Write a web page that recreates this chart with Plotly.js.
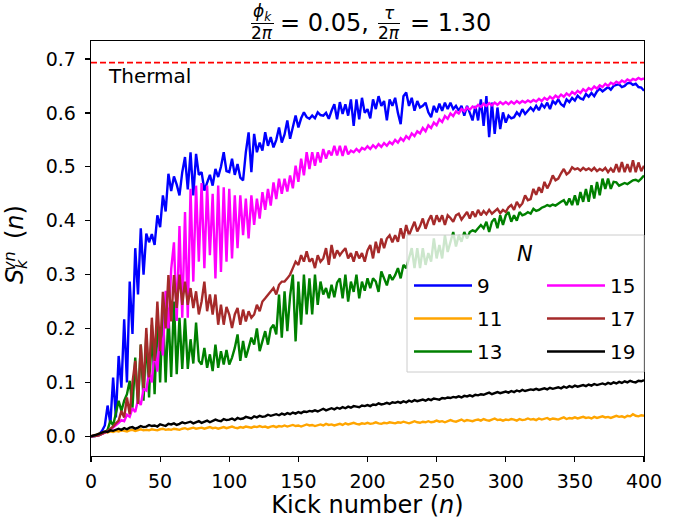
<!DOCTYPE html>
<html>
<head>
<meta charset="utf-8">
<script src="https://cdn.plot.ly/plotly-3.0.1.min.js"></script>
<style>html,body{margin:0;padding:0;background:#fff;}#chart{width:689px;height:519px;}</style>
</head>
<body>
<div id="chart"></div>
<script>
// Kick numbers (sampled every 2 kicks)
const kicks = [
0,2,4,6,8,10,12,14,16,18,
20,22,24,26,28,30,32,34,36,38,
40,42,44,46,48,50,52,54,56,58,
60,62,64,66,68,70,72,74,76,78,
80,82,84,86,88,90,92,94,96,98,
100,102,104,106,108,110,112,114,116,118,
120,122,124,126,128,130,132,134,136,138,
140,142,144,146,148,150,152,154,156,158,
160,162,164,166,168,170,172,174,176,178,
180,182,184,186,188,190,192,194,196,198,
200,202,204,206,208,210,212,214,216,218,
220,222,224,226,228,230,232,234,236,238,
240,242,244,246,248,250,252,254,256,258,
260,262,264,266,268,270,272,274,276,278,
280,282,284,286,288,290,292,294,296,298,
300,302,304,306,308,310,312,314,316,318,
320,322,324,326,328,330,332,334,336,338,
340,342,344,346,348,350,352,354,356,358,
360,362,364,366,368,370,372,374,376,378,
380,382,384,386,388,390,392,394,396,398,
400];

// N = 9
const s9 = [
0.000,0.000,0.001,0.004,0.010,0.020,0.057,0.023,0.109,0.035,
0.149,0.090,0.217,0.100,0.287,0.190,0.349,0.263,0.386,0.300,
0.376,0.360,0.375,0.355,0.410,0.388,0.447,0.417,0.487,0.455,
0.482,0.467,0.447,0.490,0.518,0.458,0.527,0.447,0.524,0.485,
0.490,0.456,0.470,0.485,0.465,0.496,0.481,0.500,0.527,0.492,
0.490,0.515,0.485,0.505,0.480,0.475,0.527,0.564,0.490,0.561,
0.527,0.545,0.530,0.564,0.539,0.555,0.536,0.550,0.573,0.545,
0.560,0.586,0.552,0.575,0.595,0.573,0.590,0.601,0.592,0.589,
0.595,0.590,0.601,0.596,0.595,0.600,0.589,0.604,0.616,0.588,
0.620,0.598,0.616,0.595,0.625,0.576,0.625,0.588,0.628,0.600,
0.607,0.590,0.625,0.607,0.631,0.613,0.622,0.586,0.625,0.613,
0.628,0.600,0.579,0.631,0.638,0.613,0.628,0.604,0.622,0.610,
0.613,0.619,0.601,0.592,0.613,0.601,0.617,0.604,0.619,0.607,
0.619,0.607,0.613,0.604,0.613,0.595,0.613,0.600,0.586,0.613,
0.586,0.625,0.576,0.631,0.555,0.619,0.561,0.610,0.570,0.601,
0.582,0.595,0.590,0.592,0.601,0.595,0.607,0.598,0.605,0.610,
0.604,0.613,0.605,0.616,0.610,0.619,0.607,0.622,0.617,0.625,
0.616,0.612,0.625,0.620,0.628,0.623,0.632,0.627,0.625,0.635,
0.630,0.637,0.631,0.640,0.645,0.640,0.644,0.648,0.643,0.650,
0.652,0.653,0.648,0.650,0.655,0.656,0.652,0.654,0.648,0.647,
0.641];

// N = 11
const s11 = [
0.000,0.001,0.003,0.005,0.006,0.008,0.007,0.009,0.008,0.010,
0.009,0.011,0.010,0.009,0.011,0.012,0.010,0.011,0.013,0.011,
0.012,0.011,0.013,0.012,0.011,0.013,0.014,0.012,0.013,0.012,
0.014,0.013,0.012,0.014,0.015,0.013,0.014,0.016,0.014,0.015,
0.016,0.014,0.015,0.017,0.015,0.016,0.014,0.016,0.017,0.015,
0.016,0.018,0.016,0.015,0.017,0.016,0.018,0.017,0.016,0.018,
0.017,0.019,0.017,0.018,0.016,0.018,0.019,0.017,0.019,0.018,
0.020,0.018,0.019,0.021,0.019,0.020,0.018,0.020,0.022,0.020,
0.021,0.019,0.021,0.022,0.020,0.023,0.021,0.022,0.020,0.022,
0.023,0.021,0.024,0.022,0.023,0.025,0.023,0.022,0.024,0.023,
0.025,0.023,0.024,0.026,0.024,0.023,0.025,0.024,0.026,0.025,
0.024,0.026,0.025,0.027,0.025,0.024,0.026,0.028,0.026,0.025,
0.027,0.026,0.028,0.026,0.027,0.029,0.027,0.028,0.026,0.028,
0.030,0.028,0.027,0.029,0.031,0.028,0.030,0.029,0.028,0.030,
0.031,0.029,0.032,0.030,0.029,0.031,0.033,0.030,0.031,0.029,
0.031,0.030,0.032,0.031,0.029,0.032,0.030,0.031,0.033,0.031,
0.032,0.030,0.033,0.031,0.032,0.034,0.031,0.033,0.032,0.031,
0.033,0.035,0.032,0.034,0.033,0.035,0.033,0.034,0.036,0.034,
0.035,0.033,0.036,0.034,0.035,0.037,0.035,0.036,0.034,0.036,
0.038,0.036,0.037,0.035,0.038,0.037,0.041,0.038,0.037,0.039,
0.038];

// N = 13
const s13 = [
0.000,0.000,0.001,0.002,0.004,0.007,0.012,0.029,0.020,0.041,
0.066,0.047,0.066,0.078,0.103,0.053,0.146,0.060,0.170,0.066,
0.189,0.072,0.207,0.078,0.226,0.100,0.240,0.100,0.230,0.110,
0.250,0.115,0.220,0.125,0.219,0.125,0.180,0.135,0.211,0.140,
0.133,0.164,0.127,0.152,0.121,0.170,0.127,0.158,0.133,0.160,
0.133,0.146,0.164,0.189,0.140,0.177,0.146,0.164,0.183,0.170,
0.200,0.158,0.177,0.195,0.170,0.200,0.207,0.189,0.263,0.183,
0.269,0.195,0.260,0.300,0.176,0.287,0.207,0.300,0.226,0.293,
0.226,0.300,0.244,0.287,0.263,0.275,0.256,0.281,0.258,0.285,
0.293,0.256,0.300,0.250,0.287,0.268,0.300,0.256,0.287,0.270,
0.293,0.275,0.293,0.287,0.268,0.306,0.293,0.280,0.300,0.290,
0.299,0.312,0.293,0.318,0.312,0.330,0.349,0.312,0.349,0.312,
0.349,0.318,0.340,0.324,0.367,0.330,0.355,0.330,0.373,0.342,
0.360,0.379,0.352,0.373,0.361,0.379,0.367,0.379,0.382,0.380,
0.386,0.392,0.386,0.398,0.379,0.398,0.404,0.386,0.410,0.392,
0.410,0.416,0.398,0.410,0.400,0.416,0.410,0.412,0.416,0.413,
0.422,0.418,0.420,0.424,0.426,0.429,0.427,0.430,0.428,0.432,
0.435,0.438,0.429,0.441,0.429,0.447,0.429,0.453,0.435,0.459,
0.435,0.466,0.441,0.472,0.447,0.478,0.459,0.478,0.459,0.472,
0.471,0.465,0.468,0.470,0.468,0.472,0.475,0.476,0.473,0.478,
0.484];

// N = 15
const s15 = [
0.000,0.000,0.001,0.002,0.004,0.006,0.009,0.012,0.016,0.020,
0.025,0.030,0.028,0.040,0.036,0.052,0.045,0.068,0.058,0.088,
0.085,0.120,0.100,0.160,0.120,0.200,0.150,0.270,0.200,0.310,
0.360,0.214,0.390,0.220,0.416,0.220,0.459,0.287,0.465,0.324,
0.470,0.312,0.465,0.336,0.450,0.293,0.465,0.305,0.462,0.324,
0.459,0.330,0.447,0.349,0.447,0.373,0.441,0.367,0.447,0.392,
0.441,0.404,0.453,0.420,0.459,0.428,0.471,0.440,0.478,0.450,
0.478,0.454,0.484,0.460,0.502,0.472,0.515,0.484,0.527,0.496,
0.527,0.502,0.527,0.508,0.533,0.515,0.530,0.521,0.539,0.521,
0.539,0.520,0.539,0.523,0.530,0.527,0.533,0.528,0.535,0.532,
0.538,0.533,0.540,0.535,0.542,0.537,0.544,0.539,0.546,0.542,
0.550,0.545,0.553,0.548,0.557,0.552,0.562,0.557,0.566,0.562,
0.572,0.566,0.577,0.572,0.582,0.577,0.588,0.583,0.594,0.589,
0.599,0.594,0.603,0.599,0.607,0.603,0.610,0.606,0.612,0.609,
0.615,0.611,0.617,0.613,0.618,0.614,0.619,0.615,0.620,0.616,
0.620,0.616,0.621,0.617,0.622,0.618,0.622,0.619,0.623,0.620,
0.624,0.621,0.626,0.622,0.628,0.624,0.630,0.626,0.632,0.628,
0.634,0.630,0.636,0.632,0.639,0.635,0.641,0.637,0.644,0.640,
0.646,0.643,0.649,0.645,0.651,0.648,0.654,0.650,0.656,0.653,
0.658,0.655,0.660,0.657,0.662,0.659,0.663,0.661,0.665,0.662,
0.664];

// N = 17
const s17 = [
0.000,0.000,0.001,0.002,0.004,0.007,0.010,0.014,0.018,0.024,
0.029,0.047,0.035,0.072,0.041,0.100,0.140,0.060,0.170,0.090,
0.201,0.109,0.220,0.140,0.250,0.158,0.268,0.200,0.299,0.213,
0.299,0.238,0.300,0.244,0.287,0.244,0.275,0.238,0.269,0.226,
0.250,0.287,0.232,0.263,0.226,0.263,0.207,0.244,0.207,0.240,
0.226,0.201,0.226,0.238,0.207,0.235,0.213,0.232,0.220,0.226,
0.244,0.232,0.250,0.256,0.263,0.269,0.275,0.263,0.281,0.287,
0.287,0.293,0.300,0.312,0.324,0.318,0.336,0.324,0.343,0.324,
0.330,0.312,0.336,0.324,0.330,0.349,0.318,0.355,0.330,0.345,
0.336,0.343,0.349,0.330,0.340,0.324,0.343,0.330,0.340,0.324,
0.345,0.355,0.330,0.361,0.340,0.367,0.349,0.367,0.373,0.360,
0.373,0.361,0.386,0.367,0.392,0.373,0.385,0.398,0.380,0.390,
0.404,0.385,0.400,0.410,0.392,0.410,0.398,0.410,0.392,0.410,
0.405,0.398,0.410,0.413,0.402,0.410,0.416,0.404,0.417,0.407,
0.420,0.410,0.418,0.412,0.420,0.413,0.418,0.422,0.414,0.420,
0.416,0.425,0.429,0.420,0.435,0.426,0.432,0.447,0.438,0.440,
0.459,0.448,0.462,0.452,0.472,0.460,0.470,0.484,0.475,0.478,
0.488,0.496,0.486,0.490,0.499,0.495,0.497,0.493,0.498,0.494,
0.497,0.493,0.498,0.492,0.496,0.493,0.498,0.490,0.497,0.490,
0.505,0.490,0.509,0.490,0.505,0.490,0.512,0.490,0.508,0.492,
0.502];

// N = 19
const s19 = [
0.000,0.001,0.003,0.005,0.007,0.009,0.008,0.011,0.010,0.012,
0.014,0.012,0.015,0.013,0.016,0.017,0.014,0.016,0.019,0.017,
0.018,0.021,0.019,0.020,0.018,0.022,0.021,0.019,0.023,0.022,
0.024,0.021,0.023,0.026,0.024,0.025,0.027,0.024,0.026,0.028,
0.025,0.027,0.029,0.026,0.028,0.031,0.029,0.028,0.032,0.030,
0.031,0.033,0.030,0.034,0.032,0.033,0.036,0.034,0.033,0.037,
0.035,0.038,0.036,0.037,0.040,0.038,0.039,0.041,0.039,0.042,
0.040,0.043,0.041,0.044,0.042,0.045,0.043,0.046,0.045,0.047,
0.046,0.048,0.046,0.049,0.051,0.048,0.050,0.052,0.050,0.053,
0.051,0.054,0.052,0.055,0.053,0.056,0.055,0.054,0.057,0.056,
0.058,0.056,0.059,0.058,0.061,0.059,0.060,0.062,0.060,0.063,
0.062,0.064,0.062,0.065,0.063,0.066,0.064,0.067,0.065,0.066,
0.068,0.066,0.069,0.067,0.070,0.069,0.068,0.071,0.070,0.072,
0.071,0.073,0.072,0.074,0.072,0.075,0.074,0.076,0.074,0.077,
0.076,0.078,0.077,0.079,0.081,0.078,0.080,0.082,0.080,0.081,
0.083,0.081,0.084,0.082,0.085,0.083,0.086,0.084,0.085,0.087,
0.086,0.088,0.086,0.087,0.089,0.087,0.090,0.088,0.089,0.091,
0.089,0.092,0.090,0.093,0.091,0.094,0.092,0.093,0.095,0.093,
0.096,0.094,0.097,0.095,0.096,0.098,0.096,0.099,0.097,0.100,
0.098,0.101,0.099,0.102,0.100,0.103,0.101,0.100,0.103,0.102,
0.104];

const seriesNames = ['9', '11', '13', '15', '17', '19'];
const seriesColors = ['#0000ff', '#ffa500', '#008000', '#ff00ff', '#a52a2a', '#000000'];
const seriesData = [s9, s11, s13, s15, s17, s19];
const seriesLegend = ['legend', 'legend', 'legend', 'legend2', 'legend2', 'legend2'];

// Thermal value ln 2
const thermalX = [0, 400];
const thermalY = [0.6931, 0.6931];

const xTicks = [0, 50, 100, 150, 200, 250, 300, 350, 400];
const yTicks = [0.0, 0.1, 0.2, 0.3, 0.4, 0.5, 0.6, 0.7];
const yTickText = ['0.0', '0.1', '0.2', '0.3', '0.4', '0.5', '0.6', '0.7'];

const FONT = 'DejaVu Sans';

const traces = [];
seriesData.forEach(function (ys, i) {
  traces.push({
    x: kicks, y: ys, type: 'scatter', mode: 'lines',
    name: seriesNames[i],
    line: {color: seriesColors[i], width: 2.4},
    legend: seriesLegend[i],
    legendgroup: 'g' + i
  });
});
traces.push({
  x: thermalX, y: thermalY, type: 'scatter', mode: 'lines',
  line: {color: '#ff0000', width: 1.8, dash: '6px,3px'},
  showlegend: false, hoverinfo: 'skip'
});

// pixel helpers for paper coordinates
const L = 91, R = 644, T = 41, B = 456;
function px(x) { return (x - L) / (R - L); }
function py(y) { return (B - y) / (B - T); }

const annotations = [
  // title: phi_k / 2pi = 0.05, tau / 2pi = 1.30
  {text: '<i>ϕ</i><sub><i>k</i></sub>', x: px(262), y: py(12), xref: 'paper', yref: 'paper', xanchor: 'center', yanchor: 'middle', showarrow: false, font: {family: FONT, size: 17, color: '#000'}},
  {text: '2<i>π</i>', x: px(262), y: py(33), xref: 'paper', yref: 'paper', xanchor: 'center', yanchor: 'middle', showarrow: false, font: {family: FONT, size: 17, color: '#000'}},
  {text: '= 0.05,', x: px(278), y: py(23), xref: 'paper', yref: 'paper', xanchor: 'left', yanchor: 'middle', showarrow: false, font: {family: FONT, size: 24, color: '#000'}},
  {text: '<i>τ</i>', x: px(389), y: py(13), xref: 'paper', yref: 'paper', xanchor: 'center', yanchor: 'middle', showarrow: false, font: {family: FONT, size: 17, color: '#000'}},
  {text: '2<i>π</i>', x: px(389), y: py(33), xref: 'paper', yref: 'paper', xanchor: 'center', yanchor: 'middle', showarrow: false, font: {family: FONT, size: 17, color: '#000'}},
  {text: '= 1.30', x: px(408), y: py(23), xref: 'paper', yref: 'paper', xanchor: 'left', yanchor: 'middle', showarrow: false, font: {family: FONT, size: 24, color: '#000'}},
  // y-axis label S_k^{vn} (n)
  {text: '<i>S</i>', x: px(15), y: py(277), xref: 'paper', yref: 'paper', xanchor: 'center', yanchor: 'middle', textangle: -90, showarrow: false, font: {family: FONT, size: 24, color: '#000'}},
  {text: '<i>vn</i>', x: px(9), y: py(261), xref: 'paper', yref: 'paper', xanchor: 'center', yanchor: 'middle', textangle: -90, showarrow: false, font: {family: FONT, size: 16, color: '#000'}},
  {text: '<i>k</i>', x: px(21), y: py(264), xref: 'paper', yref: 'paper', xanchor: 'center', yanchor: 'middle', textangle: -90, showarrow: false, font: {family: FONT, size: 16, color: '#000'}},
  {text: '(<i>n</i>)', x: px(15), y: py(222), xref: 'paper', yref: 'paper', xanchor: 'center', yanchor: 'middle', textangle: -90, showarrow: false, font: {family: FONT, size: 24, color: '#000'}},
  // Thermal label
  {text: 'Thermal', x: 10.5, y: 0.669, xref: 'x', yref: 'y', xanchor: 'left', yanchor: 'middle', showarrow: false, font: {family: FONT, size: 20, color: '#000'}},
  // legend title
  {text: '<i>N</i>', x: px(525), y: py(254), xref: 'paper', yref: 'paper', xanchor: 'center', yanchor: 'middle', showarrow: false, font: {family: FONT, size: 21, color: '#000'}}
];

const shapes = [
  // fraction bars
  {type: 'line', xref: 'paper', yref: 'paper', x0: px(251), x1: px(274), y0: py(23.5), y1: py(23.5), line: {color: '#000', width: 1}},
  {type: 'line', xref: 'paper', yref: 'paper', x0: px(378), x1: px(400), y0: py(23.5), y1: py(23.5), line: {color: '#000', width: 1}},
  // legend frame
  {type: 'rect', xref: 'paper', yref: 'paper', x0: px(407), x1: px(644), y0: py(372), y1: py(235), layer: 'above',
   fillcolor: 'rgba(255,255,255,0.8)', line: {color: '#cccccc', width: 1}}
];

const legendCommon = {
  xanchor: 'left', yanchor: 'top', bgcolor: 'rgba(0,0,0,0)', borderwidth: 0,
  font: {family: FONT, size: 20, color: '#000'},
  traceorder: 'grouped', tracegroupgap: 4, itemwidth: 58
};

const layout = {
  width: 689, height: 519,
  margin: {l: L, r: 689 - R, t: T, b: 519 - B, pad: 0},
  paper_bgcolor: '#ffffff', plot_bgcolor: '#ffffff',
  font: {family: FONT, size: 19, color: '#000'},
  showlegend: true,
  xaxis: {
    range: [0, 400], tickvals: xTicks, ticks: 'outside', ticklen: 5, tickwidth: 1.2, tickcolor: '#000',
    showline: true, mirror: true, linecolor: '#000', linewidth: 1.3, showgrid: false, zeroline: false,
    tickfont: {family: FONT, size: 19, color: '#000'}, ticklabelstandoff: 3,
    title: {text: 'Kick number (<i>n</i>)', font: {family: FONT, size: 24, color: '#000'}, standoff: 6}
  },
  yaxis: {
    range: [-0.0366, 0.7334], tickvals: yTicks, ticktext: yTickText, ticks: 'outside', ticklen: 5, tickwidth: 1.2, tickcolor: '#000',
    showline: true, mirror: true, linecolor: '#000', linewidth: 1.3, showgrid: false, zeroline: false,
    tickfont: {family: FONT, size: 19, color: '#000'}, ticklabelstandoff: 5
  },
  legend: Object.assign({x: px(409), y: py(266)}, legendCommon),
  legend2: Object.assign({x: px(542), y: py(266)}, legendCommon),
  annotations: annotations,
  shapes: shapes
};

Plotly.newPlot('chart', traces, layout, {staticPlot: true, displayModeBar: false});
</script>
</body>
</html>
